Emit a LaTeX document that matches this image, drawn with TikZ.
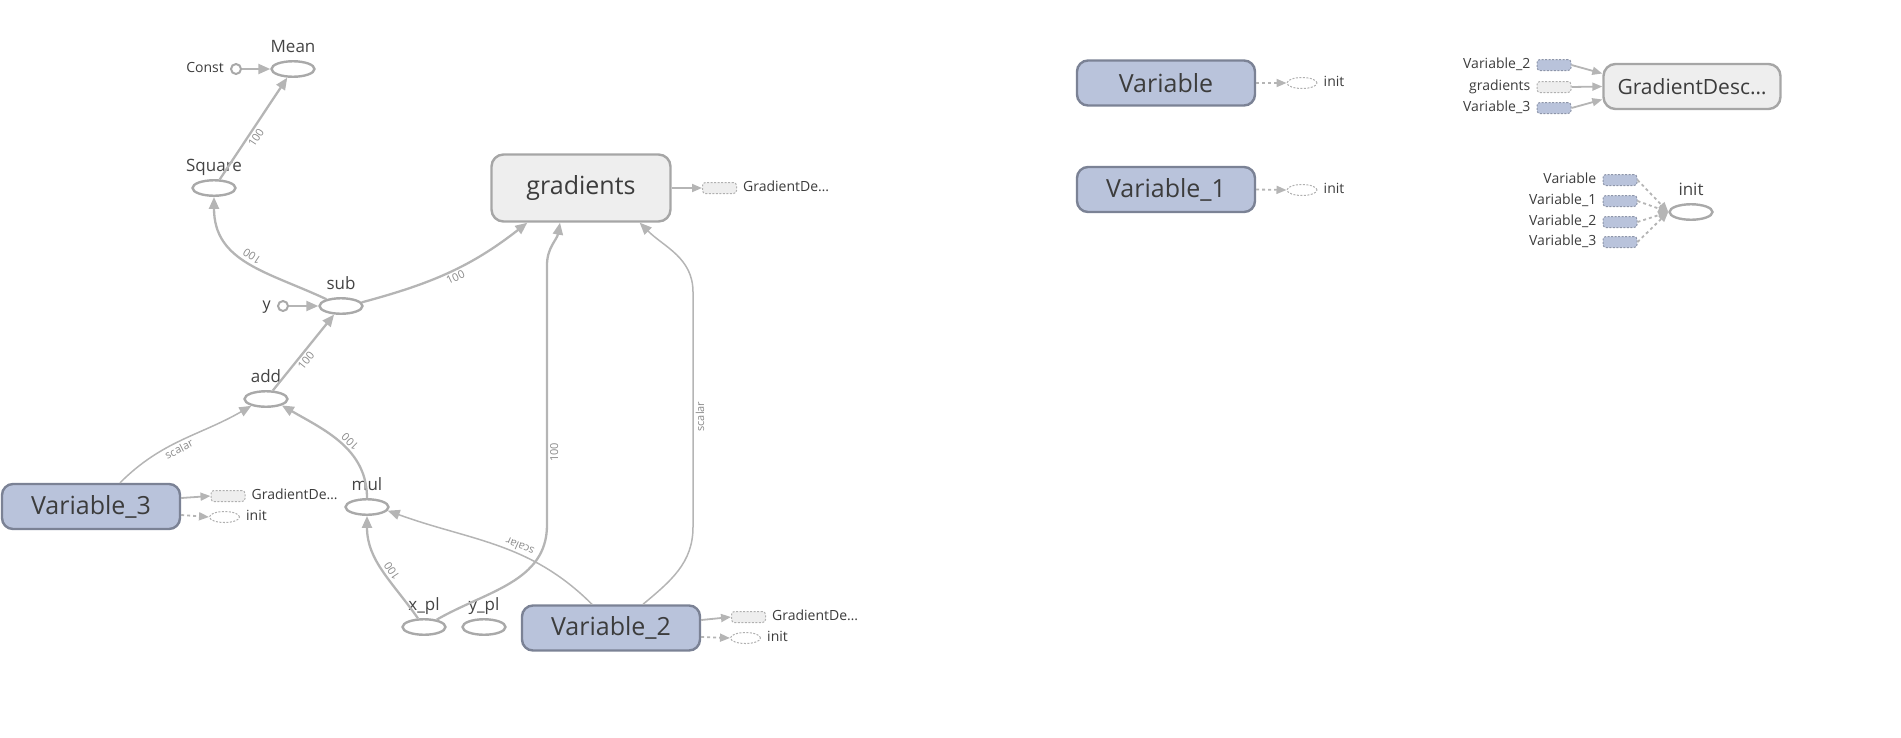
\documentclass[tikz,border=0pt]{standalone}
\usepackage{fontspec}
\setmainfont{Open Sans}
\usetikzlibrary{shapes.geometric,arrows.meta,calc}
\definecolor{edgec}{HTML}{B5B5B5}
\definecolor{opc}{HTML}{A9A9A9}
\definecolor{varfill}{HTML}{B9C3DB}
\definecolor{varborder}{HTML}{7B8295}
\definecolor{gfill}{HTML}{EEEEEE}
\definecolor{gborder}{HTML}{A6A6A6}
\definecolor{txt}{HTML}{3C3C3C}
\definecolor{lbltxt}{HTML}{444444}
\definecolor{elc}{HTML}{8A8A8A}
\definecolor{auxblueb}{HTML}{8D95A9}
\definecolor{auxgrayb}{HTML}{B0B0B0}
\begin{document}
\begin{tikzpicture}[x=1pt,y=-1pt,
  every label/.style={font=\fontsize{17}{20}\selectfont, text=lbltxt, inner sep=0pt, text height=12pt, text depth=0pt, label distance=7pt},
  op/.style={ellipse, draw=opc, line width=2.4pt, fill=white, minimum width=43pt, minimum height=15.5pt, inner sep=0pt},
  cst/.style={circle, draw=opc, line width=2pt, fill=white, minimum size=10pt, inner sep=0pt},
  varbox/.style={rectangle, rounded corners=11pt, draw=varborder, fill=varfill, line width=2.4pt, minimum width=178pt, minimum height=45pt, inner sep=0pt, font=\fontsize{25}{30}\selectfont, text=txt},
  gbox/.style={rectangle, rounded corners=12pt, draw=gborder, fill=gfill, line width=2.4pt, minimum width=179pt, minimum height=67pt, inner sep=0pt, font=\fontsize{25}{30}\selectfont, text=txt},
  auxl/.style={font=\fontsize{14}{16}\selectfont, text=txt, inner sep=0pt, text height=10pt, text depth=3pt, label distance=6pt},
  auxb/.style={rectangle, rounded corners=3pt, draw=auxblueb, fill=varfill, dash pattern=on 2pt off 1.5pt, line width=1pt, minimum width=34pt, minimum height=11pt, inner sep=0pt},
  auxg/.style={rectangle, rounded corners=3pt, draw=auxgrayb, fill=gfill, dash pattern=on 2pt off 1.5pt, line width=1pt, minimum width=34pt, minimum height=11pt, inner sep=0pt},
  auxe/.style={ellipse, draw=auxgrayb, fill=white, dash pattern=on 2pt off 1.5pt, line width=1pt, minimum width=30pt, minimum height=11pt, inner sep=0pt},
  e/.style={draw=edgec, line width=2.3pt, -{Triangle[length=12pt,width=10pt]}},
  se/.style={draw=edgec, line width=1.5pt, -{Triangle[length=12pt,width=10pt]}},
  ae/.style={draw=edgec, line width=1.8pt, -{Triangle[length=10pt,width=8pt]}},
  de/.style={draw=edgec, line width=1.8pt, dash pattern=on 3pt off 3pt, -{Triangle[length=10pt,width=8pt]}},
  el/.style={font=\fontsize{11}{12}\selectfont, text=elc, sloped, allow upside down, below, inner sep=2pt}
]
\useasboundingbox (0,0) rectangle (1901,737);

% ---------- left graph ----------
\node[op, label={above:Mean}] (mean) at (293,69) {};
\node[cst, label={[auxl]left:Const}] (const) at (236,69) {};
\node[op, label={above:Square}] (square) at (214,188) {};
\node[op, label={above:sub}] (sub) at (341,306) {};
\node[cst, label={[auxl,font=\fontsize{16}{18}\selectfont]left:y}] (ycst) at (283,306) {};
\node[op, label={above:add}] (add) at (266,399) {};
\node[op, label={above:mul}] (mul) at (367,507) {};
\node[op, label={above:x\_pl}] (xpl) at (424,627) {};
\node[op, label={above:y\_pl}] (ypl) at (484,627) {};

\node[gbox] (grad) at (581,188) {gradients};
\node[auxg, label={[auxl]right:GradientDe…}] (gradgd) at (719.5,188) {};

\node[varbox] (var3) at (91,506.5) {Variable\_3};
\node[auxg, label={[auxl]right:GradientDe…}] (v3gd) at (228,496) {};
\node[auxe, label={[auxl]right:init}] (v3init) at (224.5,517) {};

\node[varbox] (var2) at (611,628) {Variable\_2};
\node[auxg, label={[auxl]right:GradientDe…}] (v2gd) at (748.5,617) {};
\node[auxe, label={[auxl]right:init}] (v2init) at (745.5,638) {};

\coordinate (c1) at (547,525);
\coordinate (c2) at (547,265);
\coordinate (c3) at (693,527);
\coordinate (c4) at (693,292);

\draw[e] (const) -- (mean);
\draw[e] (ycst) -- (sub);
\draw[e] (square) -- (mean) node[el, pos=.45] {100};
\draw[e] (sub.155) to[out=155, in=-90, looseness=1.1] node[el, pos=.5] {100} (square.south);
\draw[e] (sub.10) to[out=15, in=-142] node[el, pos=.52] {100} ([xshift=37pt]grad.south west);
\draw[e] (add) -- (sub) node[el, pos=.45] {100};
\draw[e] (mul.north) to[out=90, in=-30] node[el, pos=.45] {100} (add.-22);
\draw[se] ([xshift=29pt]var3.north) to[out=45, in=-150] node[el, pos=.45] {scalar} (add.-155);
\draw[se] ([xshift=-19pt]var2.north) to[out=135, in=-20] node[el, pos=.4] {scalar} (mul.-10);
\draw[e] (xpl.125) to[out=125, in=-90] node[el, pos=.45] {100} (mul.south);
\draw[e] (xpl.30) to[out=30, in=-90] (c1) -- node[el, pos=.28] {100} (c2) to[out=90, in=-100] ([xshift=-21pt]grad.south);
\draw[se] ([xshift=32pt]var2.north) to[out=40, in=-90] (c3) -- node[el, pos=.47] {scalar} (c4) to[out=90, in=-45] ([xshift=-32pt]grad.south east);

\draw[ae] (grad) -- (gradgd);
\draw[ae] ([yshift=8.5pt]var3.east) -- (v3gd.west);
\draw[de] ([yshift=-8.5pt]var3.east) -- (v3init.west);
\draw[ae] ([yshift=8pt]var2.east) -- (v2gd.west);
\draw[de] ([yshift=-9pt]var2.east) -- (v2init.west);

% ---------- right side ----------
\node[varbox] (var) at (1166,83) {Variable};
\node[auxe, label={[auxl]right:init}] (varinit) at (1302,83) {};
\node[varbox] (var1) at (1166,189.5) {Variable\_1};
\node[auxe, label={[auxl]right:init}] (var1init) at (1302,190) {};
\draw[de] (var) -- (varinit);
\draw[de] (var1.east) -- (var1init.west);

\node[gbox, minimum width=177pt, minimum height=45pt, font=\fontsize{21}{25}\selectfont] (gd) at (1692,86.5) {GradientDesc…};
\node[auxb, label={[auxl]left:Variable\_2}] (gdv2) at (1554,65) {};
\node[auxg, label={[auxl]left:gradients}] (gdg) at (1554,87) {};
\node[auxb, label={[auxl]left:Variable\_3}] (gdv3) at (1554,108) {};
\draw[ae] (gdv2.east) -- ([yshift=13pt]gd.west);
\draw[ae] (gdg.east) -- (gd.west);
\draw[ae] (gdv3.east) -- ([yshift=-13pt]gd.west);

\node[op, label={above:init}] (initr) at (1691,212) {};
\node[auxb, label={[auxl]left:Variable}] (iv0) at (1620,180) {};
\node[auxb, label={[auxl]left:Variable\_1}] (iv1) at (1620,201) {};
\node[auxb, label={[auxl]left:Variable\_2}] (iv2) at (1620,222) {};
\node[auxb, label={[auxl]left:Variable\_3}] (iv3) at (1620,242) {};
\draw[de] (iv0.east) -- (initr.west);
\draw[de] (iv1.east) -- (initr.west);
\draw[de] (iv2.east) -- (initr.west);
\draw[de] (iv3.east) -- (initr.west);
\end{tikzpicture}
\end{document}
